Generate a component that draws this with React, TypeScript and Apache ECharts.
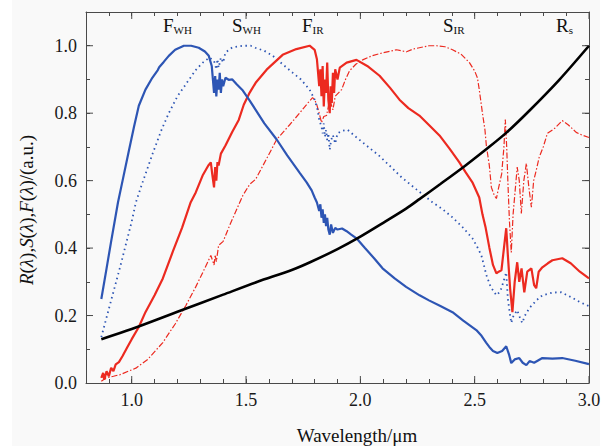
import React, { useEffect, useRef } from "react";
import * as echarts from "echarts";

const SERIF = "'Liberation Serif', 'DejaVu Serif', serif";

// x ticks / labels
const xMajorTicks = [1.0, 1.5, 2.0, 2.5, 3.0];
const yMajorTicks = [0.2, 0.4, 0.6, 0.8, 1.0];

// F_WH (blue solid)
const fWH: [number, number][] = [
  [0.867, 0.249], [0.89, 0.34], [0.91, 0.42], [0.94, 0.536], [0.96, 0.6], [0.988, 0.69],
  [1.01, 0.76], [1.031, 0.822], [1.06, 0.87], [1.09, 0.905], [1.114, 0.928], [1.12, 0.936],
  [1.14, 0.952], [1.162, 0.97], [1.19, 0.988], [1.228, 1.0], [1.26, 1.0], [1.293, 0.994],
  [1.32, 0.983], [1.337, 0.97], [1.35, 0.94], [1.355, 0.9], [1.36, 0.86], [1.365, 0.91],
  [1.37, 0.85], [1.375, 0.9], [1.38, 0.87], [1.385, 0.92], [1.39, 0.86], [1.395, 0.9],
  [1.4, 0.88], [1.41, 0.905], [1.424, 0.899], [1.44, 0.9], [1.46, 0.885], [1.486, 0.867],
  [1.516, 0.837], [1.542, 0.81], [1.58, 0.77], [1.634, 0.722], [1.68, 0.675], [1.734, 0.624],
  [1.765, 0.595], [1.787, 0.571], [1.8, 0.55], [1.81, 0.535], [1.82, 0.51], [1.825, 0.53],
  [1.83, 0.49], [1.835, 0.515], [1.84, 0.475], [1.845, 0.5], [1.85, 0.465], [1.855, 0.49],
  [1.86, 0.455], [1.866, 0.44], [1.872, 0.47], [1.88, 0.445], [1.89, 0.46], [1.9, 0.455],
  [1.92, 0.458], [1.94, 0.45], [1.96, 0.44], [1.983, 0.429], [2.02, 0.4], [2.06, 0.37],
  [2.097, 0.34], [2.15, 0.31], [2.2, 0.285], [2.259, 0.26], [2.3, 0.245], [2.35, 0.228],
  [2.403, 0.21], [2.45, 0.185], [2.507, 0.157], [2.53, 0.14], [2.55, 0.12], [2.564, 0.107],
  [2.58, 0.095], [2.599, 0.089], [2.62, 0.095], [2.638, 0.109], [2.65, 0.085], [2.66, 0.059],
  [2.675, 0.07], [2.695, 0.074], [2.71, 0.06], [2.726, 0.053], [2.74, 0.065], [2.76, 0.06],
  [2.796, 0.074], [2.84, 0.072], [2.883, 0.074], [2.94, 0.066], [3.0, 0.056],
];

// S_WH (blue dotted)
const sWH: [number, number][] = [
  [0.867, 0.136], [0.9, 0.22], [0.95, 0.346], [1.0, 0.479], [1.018, 0.535], [1.05, 0.6],
  [1.093, 0.683], [1.13, 0.75], [1.162, 0.8], [1.2, 0.85], [1.25, 0.899], [1.28, 0.928],
  [1.311, 0.95], [1.34, 0.965], [1.36, 0.955], [1.37, 0.93], [1.375, 0.96], [1.38, 0.935],
  [1.39, 0.965], [1.4, 0.95], [1.41, 0.98], [1.44, 0.995], [1.486, 1.0], [1.52, 1.0],
  [1.54, 0.994], [1.58, 0.985], [1.617, 0.97], [1.66, 0.945], [1.704, 0.92], [1.74, 0.9],
  [1.778, 0.87], [1.8, 0.84], [1.813, 0.81], [1.82, 0.78], [1.83, 0.76], [1.835, 0.74],
  [1.84, 0.77], [1.845, 0.73], [1.85, 0.75], [1.855, 0.72], [1.86, 0.74], [1.866, 0.692],
  [1.872, 0.72], [1.88, 0.735], [1.89, 0.71], [1.9, 0.74], [1.92, 0.748], [1.944, 0.751],
  [1.98, 0.73], [2.027, 0.704], [2.08, 0.675], [2.127, 0.645], [2.18, 0.61], [2.245, 0.574],
  [2.315, 0.536], [2.36, 0.515], [2.403, 0.491], [2.45, 0.46], [2.49, 0.429], [2.51, 0.405],
  [2.529, 0.379], [2.54, 0.35], [2.551, 0.32], [2.57, 0.285], [2.595, 0.26], [2.61, 0.27],
  [2.617, 0.281], [2.63, 0.31], [2.638, 0.328], [2.645, 0.25], [2.655, 0.2], [2.66, 0.178],
  [2.67, 0.2], [2.686, 0.216], [2.7, 0.19], [2.708, 0.178], [2.72, 0.2], [2.739, 0.222],
  [2.77, 0.245], [2.796, 0.26], [2.84, 0.268], [2.878, 0.269], [2.92, 0.255], [2.96, 0.24],
  [3.0, 0.228],
];

// F_IR (red solid)
const fIR: [number, number][] = [
  [0.867, 0.015], [0.875, 0.03], [0.88, 0.01], [0.89, 0.035], [0.9, 0.02], [0.91, 0.045],
  [0.92, 0.035], [0.93, 0.055], [0.944, 0.062], [0.96, 0.08], [0.98, 0.105], [1.0, 0.13],
  [1.031, 0.166], [1.06, 0.21], [1.1, 0.26], [1.136, 0.31], [1.18, 0.39], [1.22, 0.46],
  [1.258, 0.536], [1.28, 0.565], [1.31, 0.615], [1.335, 0.645], [1.346, 0.654], [1.352, 0.62],
  [1.36, 0.58], [1.365, 0.64], [1.37, 0.6], [1.375, 0.655], [1.38, 0.645], [1.39, 0.68],
  [1.41, 0.704], [1.44, 0.745], [1.468, 0.78], [1.49, 0.825], [1.516, 0.861], [1.542, 0.89],
  [1.59, 0.929], [1.66, 0.973], [1.72, 0.99], [1.778, 1.0], [1.8, 0.988], [1.81, 0.96],
  [1.815, 0.92], [1.82, 0.88], [1.825, 0.93], [1.83, 0.85], [1.835, 0.94], [1.84, 0.82],
  [1.845, 0.9], [1.85, 0.86], [1.855, 0.95], [1.86, 0.84], [1.866, 0.8], [1.87, 0.88],
  [1.875, 0.83], [1.88, 0.92], [1.885, 0.86], [1.89, 0.93], [1.9, 0.9], [1.91, 0.935],
  [1.94, 0.95], [1.983, 0.958], [2.03, 0.94], [2.084, 0.911], [2.13, 0.875], [2.171, 0.84],
  [2.21, 0.815], [2.258, 0.793], [2.3, 0.765], [2.346, 0.734], [2.39, 0.695], [2.433, 0.654],
  [2.46, 0.625], [2.49, 0.595], [2.52, 0.55], [2.534, 0.5], [2.548, 0.46], [2.564, 0.402],
  [2.58, 0.35], [2.595, 0.325], [2.605, 0.33], [2.617, 0.334], [2.628, 0.4], [2.638, 0.459],
  [2.645, 0.38], [2.655, 0.28], [2.665, 0.21], [2.675, 0.3], [2.686, 0.358], [2.695, 0.3],
  [2.705, 0.34], [2.717, 0.269], [2.73, 0.33], [2.748, 0.34], [2.76, 0.29], [2.769, 0.281],
  [2.78, 0.33], [2.796, 0.343], [2.82, 0.355], [2.84, 0.364], [2.883, 0.37], [2.92, 0.355],
  [2.96, 0.33], [3.0, 0.31],
];

// S_IR (red dash-dot)
const sIR: [number, number][] = [
  [0.867, 0.005], [0.887, 0.015], [0.92, 0.02], [0.95, 0.025], [1.018, 0.044], [1.07, 0.07],
  [1.136, 0.12], [1.19, 0.175], [1.237, 0.23], [1.28, 0.285], [1.311, 0.328], [1.346, 0.378],
  [1.355, 0.36], [1.36, 0.35], [1.365, 0.38], [1.37, 0.36], [1.38, 0.408], [1.4, 0.42],
  [1.43, 0.47], [1.486, 0.556], [1.516, 0.589], [1.542, 0.604], [1.59, 0.665], [1.634, 0.722],
  [1.69, 0.765], [1.734, 0.8], [1.77, 0.83], [1.791, 0.846], [1.8, 0.84], [1.809, 0.826],
  [1.82, 0.8], [1.83, 0.772], [1.84, 0.79], [1.852, 0.793], [1.86, 0.82], [1.866, 0.84],
  [1.88, 0.81], [1.89, 0.85], [1.918, 0.87], [1.935, 0.9], [1.953, 0.926], [1.98, 0.945],
  [2.01, 0.958], [2.05, 0.97], [2.097, 0.979], [2.158, 0.988], [2.18, 0.985], [2.202, 0.982],
  [2.23, 0.99], [2.258, 0.994], [2.3, 1.0], [2.333, 1.0], [2.37, 0.997], [2.403, 0.988],
  [2.44, 0.975], [2.477, 0.95], [2.5, 0.925], [2.512, 0.905], [2.52, 0.87], [2.53, 0.82],
  [2.534, 0.8], [2.545, 0.75], [2.551, 0.704], [2.564, 0.645], [2.573, 0.58], [2.586, 0.556],
  [2.595, 0.547], [2.605, 0.58], [2.618, 0.62], [2.628, 0.7], [2.634, 0.781], [2.64, 0.7],
  [2.645, 0.6], [2.652, 0.48], [2.66, 0.387], [2.668, 0.5], [2.686, 0.64], [2.695, 0.6],
  [2.704, 0.503], [2.715, 0.6], [2.726, 0.651], [2.737, 0.58], [2.748, 0.521], [2.758, 0.6],
  [2.769, 0.63], [2.782, 0.669], [2.8, 0.7], [2.818, 0.74], [2.85, 0.755], [2.883, 0.778],
  [2.91, 0.765], [2.944, 0.743], [2.97, 0.735], [3.0, 0.728],
];

// R_s (black)
const rS: [number, number][] = [
  [0.867, 0.13], [1.0, 0.16], [1.2, 0.211], [1.4, 0.262], [1.55, 0.3], [1.7, 0.335],
  [1.78, 0.358], [1.9, 0.397], [2.0, 0.434], [2.1, 0.475], [2.2, 0.517], [2.26, 0.546],
  [2.35, 0.59], [2.46, 0.645], [2.56, 0.698], [2.64, 0.743], [2.74, 0.808], [2.87, 0.899],
  [3.0, 1.0],
];

const BLUE = "#2d55b4";
const RED = "#ec2a20";
const AXIS = "#4a4a4a";

function tickSeries(values: number[], dir: "x" | "y") {
  return {
    type: "custom",
    silent: true,
    clip: false,
    z: 10,
    encode: { x: 0, y: 1 },
    data: values.map((v) => (dir === "x" ? [v, 0] : [0.8, v])),
    renderItem: (_p: any, api: any) => {
      const v = dir === "x" ? api.value(0) : api.value(1);
      const style = { stroke: AXIS, lineWidth: 1 };
      if (dir === "x") {
        const b = api.coord([v, 0]);
        const t = api.coord([v, 1.1]);
        return {
          type: "group",
          children: [
            { type: "line", shape: { x1: b[0], y1: b[1], x2: b[0], y2: b[1] - 7 }, style },
            { type: "line", shape: { x1: t[0], y1: t[1], x2: t[0], y2: t[1] + 7 }, style },
          ],
        };
      }
      const l = api.coord([0.8, v]);
      const r = api.coord([3.0, v]);
      return {
        type: "group",
        children: [
          { type: "line", shape: { x1: l[0], y1: l[1], x2: l[0] + 7, y2: l[1] }, style },
          { type: "line", shape: { x1: r[0], y1: r[1], x2: r[0] - 7, y2: r[1] }, style },
        ],
      };
    },
  };
}

function label(x: number, main: string, sub: string) {
  return {
    type: "text",
    x,
    y: 35,
    style: {
      text: `{m|${main}}{s|${sub}}`,
      align: "left",
      verticalAlign: "bottom",
      fill: "#111",
      rich: {
        m: { fontSize: 19, fontFamily: SERIF, fill: "#111", verticalAlign: "bottom" },
        s: { fontSize: 11, fontFamily: SERIF, fill: "#111", verticalAlign: "bottom" },
      },
    },
  };
}

export default function App() {
  const ref = useRef<HTMLDivElement>(null);
  useEffect(() => {
    if (!ref.current) return;
    const chart = echarts.init(ref.current, null, { renderer: "svg" });
    const xFmt = (v: number) => {
      const r = Math.round(v * 10);
      return r % 5 === 0 ? v.toFixed(1) : "";
    };
    const yFmt = (v: number) => {
      const r = Math.round(v * 10);
      return r % 2 === 0 && r <= 10 ? v.toFixed(1) : "";
    };
    const axisCommon = {
      type: "value",
      axisLine: { show: true, onZero: false, lineStyle: { color: AXIS, width: 1 } },
      axisTick: { show: true, inside: true, length: 4, lineStyle: { color: AXIS } },
      splitLine: { show: false },
    };
    chart.setOption({
      animation: false,
      backgroundColor: "#ffffff",
      grid: { left: 86, top: 12, right: 20, bottom: 63, containLabel: false },
      xAxis: [
        {
          ...axisCommon,
          position: "bottom",
          min: 0.8,
          max: 3.0,
          interval: 0.1,
          axisLabel: {
            formatter: xFmt,
            color: "#1a1a1a",
            fontFamily: SERIF,
            fontSize: 18,
            margin: 8,
            showMinLabel: true,
            showMaxLabel: true,
          },
        },
        {
          ...axisCommon,
          position: "top",
          min: 0.8,
          max: 3.0,
          interval: 0.1,
          axisLabel: { show: false },
        },
      ],
      yAxis: [
        {
          ...axisCommon,
          position: "left",
          min: 0,
          max: 1.1,
          interval: 0.1,
          axisLabel: {
            formatter: yFmt,
            color: "#1a1a1a",
            fontFamily: SERIF,
            fontSize: 18,
            margin: 9,
          },
        },
        {
          ...axisCommon,
          position: "right",
          min: 0,
          max: 1.1,
          interval: 0.1,
          axisLabel: { show: false },
        },
      ],
      graphic: [
        {
          type: "rect",
          z: -10,
          silent: true,
          shape: { x: 12, y: 0, width: 588, height: 446 },
          style: { fill: "#f9f9f9" },
        },
        label(163, "F", "WH"),
        label(232, "S", "WH"),
        label(302, "F", "IR"),
        label(443, "S", "IR"),
        label(556, "R", "s"),
        {
          type: "text",
          x: 357,
          y: 435,
          style: {
            text: "Wavelength/\u03bcm",
            fontSize: 19,
            fontFamily: SERIF,
            fill: "#111",
            align: "center",
            verticalAlign: "middle",
          },
        },
        {
          type: "text",
          x: 26,
          y: 210,
          rotation: Math.PI / 2,
          style: {
            text:
              "{i|R}{n|(}{i|\u03bb}{n|),}{i|S}{n|(}{i|\u03bb}{n|),}{i|F}{n|(}{i|\u03bb}{n|)/(a.u.)}",
            align: "center",
            verticalAlign: "middle",
            fill: "#111",
            rich: {
              i: { fontSize: 19, fontFamily: SERIF, fontStyle: "italic", fill: "#111" },
              n: { fontSize: 19, fontFamily: SERIF, fill: "#111" },
            },
          },
        },
      ],
      series: [
        {
          type: "line",
          name: "S_IR",
          data: sIR,
          symbol: "none",
          lineStyle: { color: RED, width: 1.2, type: [6, 2, 1.5, 2] },
          z: 2,
        },
        {
          type: "line",
          name: "S_WH",
          data: sWH,
          symbol: "none",
          lineStyle: { color: BLUE, width: 1.8, type: [1.5, 3.5] },
          z: 2,
        },
        {
          type: "line",
          name: "F_IR",
          data: fIR,
          symbol: "none",
          lineStyle: { color: RED, width: 2.2 },
          z: 3,
        },
        {
          type: "line",
          name: "F_WH",
          data: fWH,
          symbol: "none",
          lineStyle: { color: BLUE, width: 2.2 },
          z: 3,
        },
        {
          type: "line",
          name: "R_s",
          data: rS,
          symbol: "none",
          smooth: 0.3,
          lineStyle: { color: "#000000", width: 2.6 },
          z: 4,
        },
        tickSeries(xMajorTicks, "x"),
        tickSeries(yMajorTicks, "y"),
      ],
    });
    return () => chart.dispose();
  }, []);
  return (
    <div
      ref={ref}
      style={{ position: "fixed", left: 0, top: 0, width: 609, height: 446 }}
    />
  );
}
